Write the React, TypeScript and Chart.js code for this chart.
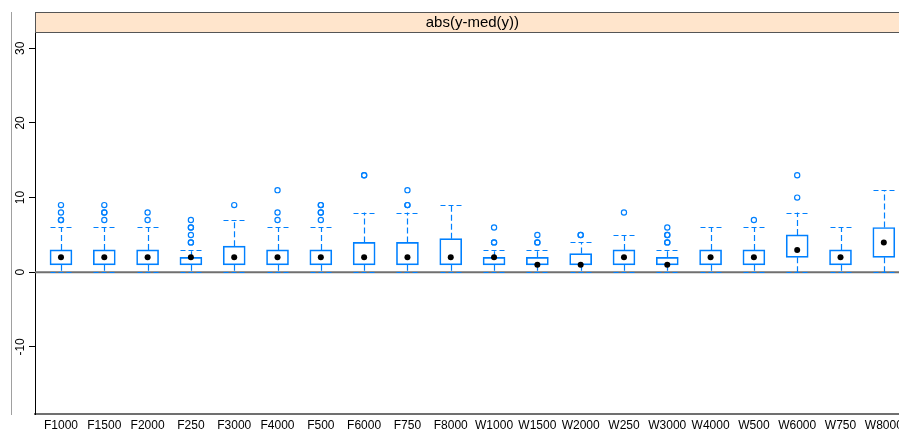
import React, { useEffect, useRef } from "react";
import { Chart, registerables } from "chart.js";

Chart.register(...registerables);

const categories = ["F1000", "F1500", "F2000", "F250", "F3000", "F4000", "F500", "F6000", "F750", "F8000",
  "W1000", "W1500", "W2000", "W250", "W3000", "W4000", "W500", "W6000", "W750", "W8000"];
const lowerWhisker = [0, 0, 0, 0, 0, 0, 0, 0, 0, 0, 0, 0, 0, 0, 0, 0, 0, 0, 0, 0];
const q1 = [1, 1, 1, 1, 1, 1, 1, 1, 1, 1, 1, 1, 1, 1, 1, 1, 1, 2, 1, 2];
const medians = [2, 2, 2, 2, 2, 2, 2, 2, 2, 2, 2, 1, 1, 2, 1, 2, 2, 3, 2, 4];
const q3 = [3, 3, 3, 2, 3.5, 3, 3, 4, 4, 4.5, 2, 2, 2.5, 3, 2, 3, 3, 5, 3, 6];
const upperWhisker = [6, 6, 6, 3, 7, 6, 6, 8, 8, 9, 3, 3, 4, 5, 3, 6, 6, 8, 6, 11];
const outliers = [
  [7, 7, 8, 9], [7, 8, 8, 9], [7, 8], [4, 4, 5, 6, 6, 7], [9], [7, 8, 11], [7, 8, 8, 9, 9],
  [13, 13], [9, 9, 11], [], [4, 4, 6], [4, 4, 5], [5, 5], [8], [4, 4, 5, 5, 6], [], [7],
  [10, 13], [], [],
];
const yTicks = [-10, 0, 10, 20, 30];
const stripTitle = "abs(y-med(y))";

const BLUE = "#0080ff";
const FONT = "'Liberation Sans', Arial, Helvetica, sans-serif";

const lattice = {
  id: "lattice",
  beforeDatasetsDraw(chart: any) {
    const { ctx, chartArea, scales } = chart;
    const xs = scales.x, ys = scales.y;
    ctx.save();
    // zero reference line
    const y0 = ys.getPixelForValue(0);
    ctx.strokeStyle = "#707070";
    ctx.lineWidth = 2;
    ctx.beginPath();
    ctx.moveTo(chartArea.left, y0);
    ctx.lineTo(chartArea.right, y0);
    ctx.stroke();
    // whiskers and caps
    ctx.strokeStyle = BLUE;
    ctx.lineWidth = 1.2;
    categories.forEach((_, i) => {
      const x = Math.round(xs.getPixelForValue(i + 1)) + 0.5;
      const half = 11;
      ctx.setLineDash([6, 3]);
      ctx.beginPath();
      ctx.moveTo(x, ys.getPixelForValue(q3[i]));
      ctx.lineTo(x, ys.getPixelForValue(upperWhisker[i]));
      ctx.moveTo(x, ys.getPixelForValue(q1[i]));
      ctx.lineTo(x, ys.getPixelForValue(lowerWhisker[i]));
      ctx.stroke();
      ctx.setLineDash([5, 3]);
      ctx.beginPath();
      const yu = Math.round(ys.getPixelForValue(upperWhisker[i])) + 0.5;
      const yl = Math.round(ys.getPixelForValue(lowerWhisker[i])) + 0.5;
      ctx.moveTo(x - half, yu);
      ctx.lineTo(x + half, yu);
      ctx.moveTo(x - half, yl);
      ctx.lineTo(x + half, yl);
      ctx.stroke();
    });
    ctx.restore();
  },
  afterDraw(chart: any) {
    const { ctx, chartArea, scales } = chart;
    const ys = scales.y;
    ctx.save();
    // outer grey line
    ctx.strokeStyle = "#a0a0a0";
    ctx.lineWidth = 1;
    ctx.beginPath();
    ctx.moveTo(11.5, chartArea.top - 20);
    ctx.lineTo(11.5, chartArea.bottom + 1);
    ctx.stroke();
    // strip
    const sTop = chartArea.top - 20;
    ctx.fillStyle = "#ffe5cc";
    ctx.fillRect(chartArea.left, sTop, chartArea.right - chartArea.left, 20);
    ctx.strokeStyle = "#555555";
    ctx.lineWidth = 1;
    ctx.strokeRect(chartArea.left + 0.5, sTop + 0.5, chartArea.right - chartArea.left, 20);
    ctx.fillStyle = "#000";
    ctx.font = `15px ${FONT}`;
    ctx.textAlign = "center";
    ctx.textBaseline = "middle";
    ctx.fillText(stripTitle, (chartArea.left + chartArea.right) / 2, sTop + 10.5);
    // rotated y tick labels
    ctx.font = `12px ${FONT}`;
    ctx.textAlign = "center";
    ctx.textBaseline = "alphabetic";
    yTicks.forEach((v) => {
      const py = ys.getPixelForValue(v);
      ctx.save();
      ctx.translate(24, py);
      ctx.rotate(-Math.PI / 2);
      ctx.fillText(String(v), 0, 0);
      ctx.restore();
    });
    ctx.restore();
  },
};

export default function App() {
  const ref = useRef<HTMLCanvasElement>(null);
  useEffect(() => {
    if (!ref.current) return;
    const chart = new Chart(ref.current, {
      type: "scatter",
      data: {
        datasets: [
          {
            type: "bar",
            data: categories.map((_, i) => ({ x: i + 1, y: [q1[i], q3[i]] })) as any,
            backgroundColor: "rgba(255,255,255,0)",
            borderColor: BLUE,
            borderWidth: 1,
            borderSkipped: false,
            barThickness: 22,
            order: 3,
          } as any,
          {
            type: "scatter",
            data: categories.map((_, i) => ({ x: i + 1, y: medians[i] })),
            pointStyle: "circle",
            pointRadius: 3,
            pointBackgroundColor: "#000",
            pointBorderWidth: 0,
            order: 1,
          },
          {
            type: "scatter",
            data: outliers.flatMap((arr, i) => arr.map((v) => ({ x: i + 1, y: v }))),
            pointStyle: "circle",
            pointRadius: 2.6,
            pointBackgroundColor: "rgba(0,0,0,0)",
            pointBorderColor: BLUE,
            pointBorderWidth: 1.2,
            order: 2,
          },
        ],
      },
      options: {
        responsive: false,
        animation: false,
        events: [],
        layout: { padding: { top: 32, left: 0, right: 0, bottom: 0 } },
        plugins: { legend: { display: false }, tooltip: { enabled: false }, title: { display: false } },
        scales: {
          x: {
            type: "linear",
            min: 0.4,
            max: 20.6,
            offset: false,
            afterBuildTicks: (s: any) => {
              s.ticks = categories.map((_, i) => ({ value: i + 1 }));
            },
            afterFit: (s: any) => {
              s.height = 16;
              s.paddingLeft = 0;
              s.paddingRight = 0;
            },
            grid: { display: false, drawTicks: false, offset: false },
            border: { display: true, color: "#707070", width: 2 },
            ticks: {
              autoSkip: false,
              maxRotation: 0,
              minRotation: 0,
              padding: 4,
              color: "#000",
              font: { family: FONT, size: 12 },
              callback: (v: any) => categories[Math.round(Number(v)) - 1] ?? "",
            },
          },
          y: {
            type: "linear",
            min: -18.98,
            max: 32.18,
            afterBuildTicks: (s: any) => {
              s.ticks = yTicks.map((v) => ({ value: v }));
            },
            afterFit: (s: any) => {
              s.width = 35;
              s.paddingTop = 0;
              s.paddingBottom = 0;
            },
            grid: { drawOnChartArea: false, drawTicks: true, tickLength: 6, color: "#000", lineWidth: 1 },
            border: { display: true, color: "#000", width: 1 },
            ticks: { display: false },
          },
        },
      },
      plugins: [lattice],
    });
    return () => chart.destroy();
  }, []);
  return (
    <div style={{ position: "fixed", left: 0, top: 0, width: 899, height: 430, overflow: "hidden", background: "#fff" }}>
      <canvas ref={ref} width={915} height={430} style={{ display: "block" }} />
    </div>
  );
}
